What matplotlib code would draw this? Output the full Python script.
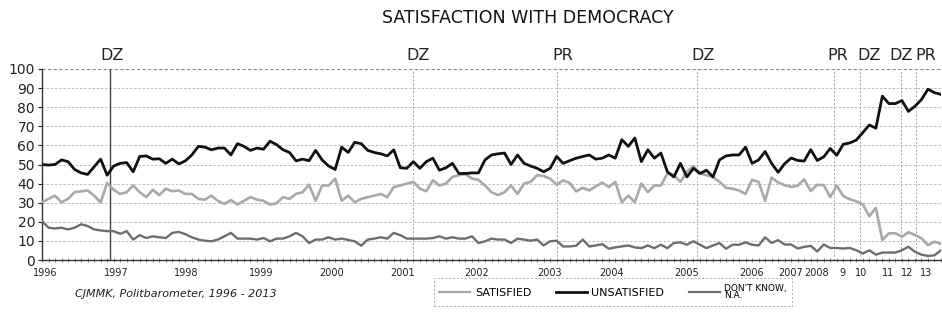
import numpy as np
import matplotlib
matplotlib.use('Agg')
import matplotlib.pyplot as plt
from matplotlib.lines import Line2D

# ---------------------------------------------------------------------------
# Data (Politbarometer surveys, one value per survey, %)
# ---------------------------------------------------------------------------

unsatisfied = [
    50, 49.7, 50, 52.4, 51.5, 47.4, 45.6, 44.8, 48.8, 52.8,
    44.4, 49.2, 50.6, 51, 46.2, 54.2, 54.5, 52.8, 53, 50.6,
    52.8, 50.3, 51.9, 55, 59.5, 59.1, 57.7, 58.6, 58.6, 55,
    60.9, 59.5, 57.4, 58.6, 58, 62.2, 60.4, 57.7, 56.3, 51.9,
    52.8, 52, 57.4, 52.4, 49.2, 47.4, 59.1, 56.3, 61.6, 60.9,
    57.4, 56.3, 55.6, 54.5, 57.7, 48.3, 48, 51.5, 48, 51.5,
    53.3, 47, 48.3, 50.6, 45.3, 45.3, 45.6, 45.6, 52.4,
    55, 55.6, 56, 50, 55, 50.6, 49.2, 48, 46.2, 48,
    54.2, 50.6, 52, 53.3, 54.2, 55, 52.8, 53.3, 55, 53.3,
    63, 59.5, 63.9, 51.5, 57.7, 53.3, 56, 46.2, 43.5, 50.6,
    43.5, 48, 45.3, 47, 43.5, 52.4, 54.5, 55, 55, 59.1,
    50.6, 52.4, 56.8, 50.6,
    45.9, 50.4, 53.4, 52.1, 51.8, 57.8, 52.1, 54, 58.4, 54.8,
    60.6, 61.3, 62.8, 66.7, 70.7, 69, 85.8, 81.9, 81.9, 83.5,
    77.8, 80.5, 84, 89.4, 87.6, 86.7,
]

satisfied = [
    30.2, 32, 33.7, 30.2, 32, 35.5, 35.9, 36.4, 33.7, 30.2,
    40.3, 36.8, 34.6, 35.5, 39, 35.5, 32.9, 36.8, 34, 37.3,
    36, 36.4, 34.6, 34.6, 32, 31.6, 33.7, 31, 29.3, 31.4,
    29, 31, 32.9, 31.6, 31, 29, 29.7, 32.9, 32, 34.6,
    35.5, 39.4, 31, 39, 39, 42.6, 31, 33.7, 30.2, 32,
    32.9, 33.7, 34.6, 32.9, 38.2, 39, 40, 40.9, 37.3, 36,
    41.7, 39, 40, 43.5, 44.4, 45, 42.6, 42, 39,
    35.5, 34, 35.5, 39, 34.6, 40, 40.9, 44.4, 44, 42.6,
    39.4, 41.7, 40.3, 35.9, 37.8, 36.4, 38.5, 40.5, 38.2, 40.9,
    30.2, 33.7, 30.2, 40, 35.5, 39, 39, 45.3, 44.4, 40.9,
    46.2, 49.2, 45.3, 44.4, 43.5, 40.9, 37.8, 37.3, 36.4, 34.6,
    42, 40.9, 31, 43.2,
    40.6, 39.2, 38.3, 38.9, 42.2, 36.1, 39.4, 39.2, 33, 38.9,
    33.5, 31.8, 30.8, 29.1, 22.9, 27.3, 10.4, 14, 14, 12.2,
    14.5, 13.1, 11.4, 7.8, 9.6, 8.4,
]

dont_know = [
    20.4, 16.9, 16.5, 16.9, 16, 16.9, 18.7, 17.8, 16, 15.5,
    15.1, 15.1, 13.7, 15.1, 10.7, 13, 11.5, 12.4, 11.9, 11.5,
    14.2, 14.7, 13.5, 11.9, 10.7, 10.1, 9.8, 10.7, 12.4, 14.2,
    11.2, 11.2, 11.2, 10.7, 11.5, 9.8, 11.2, 11.2, 12.4, 14.2,
    12.4, 8.9, 10.7, 10.7, 11.9, 10.7, 11.2, 10.5, 9.8, 7.5,
    10.7, 11.2, 11.9, 11.2, 14.2, 13, 11.2, 11.2, 11.2, 11.2,
    11.5, 12.4, 11.2, 11.9, 11.2, 11.2, 12.4, 8.9, 9.8,
    11.2, 10.7, 10.7, 8.9, 11.2, 10.7, 10.1, 10.7, 7.6, 9.8,
    10.1, 7.1, 7.1, 7.5, 10.7, 7.1, 7.6, 8.3, 5.9, 6.6,
    7.1, 7.6, 6.6, 6.2, 7.6, 6.2, 8, 6.2, 8.9, 9.2,
    8, 9.8, 8, 6.2, 7.6, 8.9, 5.9, 8, 8, 9.2,
    8, 7.6, 11.9, 8.9,
    10.4, 8.1, 8.1, 6, 6.9, 7.4, 4.5, 8.1, 6.3, 6.3,
    6, 6.3, 5.1, 3.4, 5.1, 2.8, 3.9, 3.9, 3.9, 5.1,
    6.9, 4.3, 2.8, 2.1, 2.5, 5.1,
]

# year labels, placed at survey index
year_pos = [0.5, 11.4, 22.2, 33.6, 44.5, 55.4, 66.7, 77.9, 87.4, 98.9,
            108.9, 114.9, 118.9, 122.9, 125.8, 129.8, 132.8, 135.7]
year_labels = ['1996', '1997', '1998', '1999', '2000', '2001', '2002', '2003',
               '2004', '2005', '2006', '2007', '2008', '9', '10', '11', '12', '13']

# elections: DZ = parliamentary, PR = presidential
election_pos = [10.4, 56.9, 79.1, 100.6, 121.6, 125.5, 131.9, 134.2]
election_type = ['DZ', 'DZ', 'PR', 'DZ', 'PR', 'DZ', 'DZ', 'PR']
label_shift = [0.3, 0.9, 0.9, 0.9, 0.6, 1.4, 0.0, 1.5]

C_SAT = '#a9a9a9'
C_UNSAT = '#111111'
C_DK = '#6e6e6e'

W, H = 942, 323

fig = plt.figure(figsize=(W / 100, H / 100), dpi=100)
ax = fig.add_axes([42 / W, 1 - 260 / H, (941 - 42) / W, (260 - 69) / H])

x = np.arange(len(unsatisfied))

ax.plot(x, satisfied, color=C_SAT, lw=1.9, zorder=3)
ax.plot(x, dont_know, color=C_DK, lw=1.7, zorder=3)
ax.plot(x, unsatisfied, color=C_UNSAT, lw=2.0, zorder=4)

ax.set_xlim(0, len(unsatisfied) - 1)
ax.set_ylim(0, 100)

# horizontal grid
for v in range(10, 101, 10):
    ax.axhline(v, color='#8a8a8a' if v == 100 else '#b5b5b5',
               lw=0.8 if v == 100 else 0.6, ls=(0, (3, 2)), zorder=1)

# election markers
for i, (p, t) in enumerate(zip(election_pos, election_type)):
    if i == 0:
        ax.axvline(p, color='#444444', lw=1.0, zorder=2)
    else:
        ax.axvline(p, color='#a5a5a5', lw=0.7, ls=(0, (2, 2)), zorder=2)
    ax.text(p + label_shift[i], 107, t, ha='center', va='center',
            fontsize=11.5, color='#222222', clip_on=False)

for s in ['top', 'right']:
    ax.spines[s].set_visible(False)
ax.spines['left'].set_color('#333333')
ax.spines['bottom'].set_color('#333333')
ax.spines['left'].set_linewidth(1.0)
ax.spines['bottom'].set_linewidth(1.0)

ax.set_yticks(range(0, 101, 10))
ax.tick_params(axis='y', length=3, width=0.8, labelsize=10, pad=2,
               colors='#222222')
ax.set_xticks(year_pos)
ax.set_xticklabels(year_labels)
ax.tick_params(axis='x', length=0, labelsize=7, pad=6, colors='#222222')
ax.set_xticks(x, minor=True)
ax.tick_params(axis='x', which='minor', length=2.5, width=0.5,
               direction='inout', color='#555555')

fig.text(0.56, 1 - 18 / H, 'SATISFACTION WITH DEMOCRACY', ha='center',
         va='center', fontsize=12.5, color='#111111')

fig.text(75 / W, 1 - 294 / H, 'CJMMK, Politbarometer, 1996 - 2013',
         style='italic', fontsize=8, ha='left', va='center', color='#222222')

handles = [Line2D([], [], color=C_SAT, lw=1.6),
           Line2D([], [], color=C_UNSAT, lw=2.0),
           Line2D([], [], color=C_DK, lw=1.6)]
labels = ['SATISFIED', 'UNSATISFIED', "DON'T KNOW,\nN.A."]
leg = fig.legend(handles, labels, loc='center', ncol=3,
                 bbox_to_anchor=(613 / W, 1 - 292 / H), fontsize=8,
                 handlelength=2.8, handletextpad=0.4, columnspacing=2.2,
                 fancybox=False, frameon=True, borderpad=0.5)
leg.get_frame().set_edgecolor('#9a9a9a')
leg.get_frame().set_linestyle((0, (2, 2)))
leg.get_frame().set_linewidth(0.7)
t = leg.get_texts()[2]
t.set_fontsize(6.5)
t.set_linespacing(0.8)

fig.savefig('out.png', dpi=100, facecolor='white')
